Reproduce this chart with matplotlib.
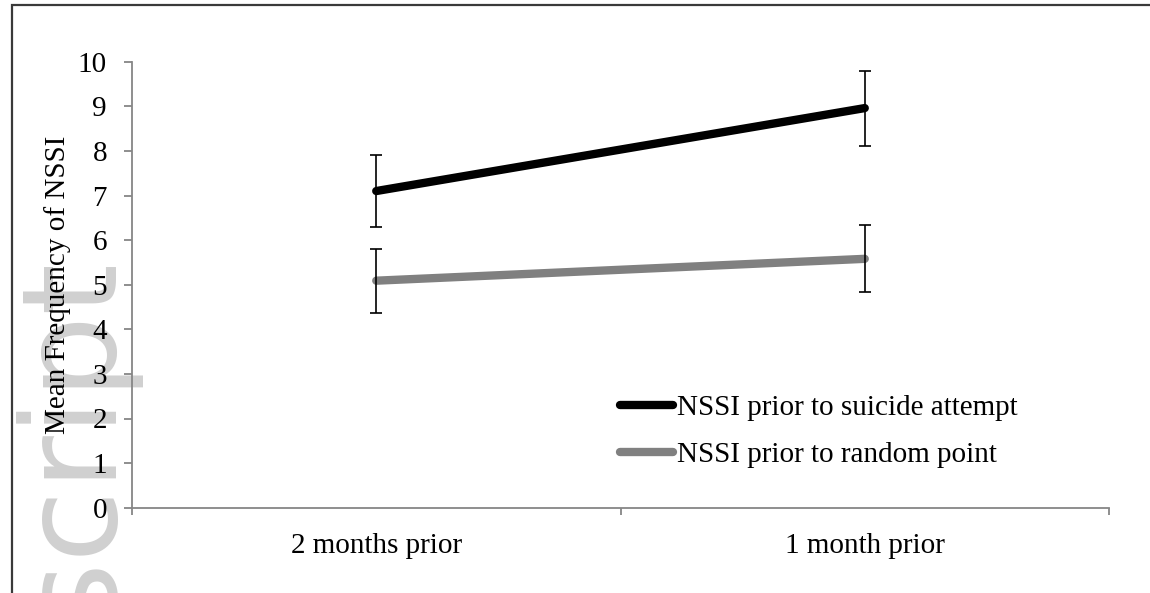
import matplotlib
matplotlib.use("Agg")
import matplotlib.pyplot as plt
from matplotlib.patches import Rectangle

categories = ["2 months prior", "1 month prior"]
attempt_means = [7.10, 8.96]
attempt_err = [0.81, 0.84]
random_means = [5.09, 5.58]
random_err = [0.72, 0.75]
series_labels = ["NSSI prior to suicide attempt", "NSSI prior to random point"]
y_label = "Mean Frequency of NSSI"
y_ticks = list(range(0, 11))

W, H = 1150, 593
FS = 21
plt.rcParams['font.family'] = ['Liberation Serif', 'DejaVu Serif']

fig = plt.figure(figsize=(W / 100, H / 100), dpi=100)
fig.patch.set_facecolor('white')

ax = fig.add_axes([132 / W, 1 - 507.7 / H, (1109 - 132) / W, (507.7 - 61.7) / H])
ax.patch.set_visible(False)

x = list(range(len(categories)))
grey_axis = '#868686'

ax.plot(x, attempt_means, color='black', lw=6, solid_capstyle='round', label=series_labels[0], zorder=3)
ax.plot(x, random_means, color='#808080', lw=6, solid_capstyle='round', label=series_labels[1], zorder=3)
ax.errorbar(x, attempt_means, yerr=attempt_err, fmt='none', ecolor='black', elinewidth=1.2, capsize=4.5, capthick=1.2, zorder=4)
ax.errorbar(x, random_means, yerr=random_err, fmt='none', ecolor='black', elinewidth=1.2, capsize=4.5, capthick=1.2, zorder=4)

ax.set_xlim(-0.5, len(categories) - 0.5)
ax.set_ylim(0, 10)
ax.set_yticks(y_ticks)
ax.set_yticklabels([str(v) for v in y_ticks], fontsize=FS)
ax.set_xticks(x)
ax.set_xticklabels(categories, fontsize=FS)
ax.set_xticks([i - 0.5 for i in range(len(categories) + 1)], minor=True)

for side in ('top', 'right'):
    ax.spines[side].set_visible(False)
for side in ('left', 'bottom'):
    ax.spines[side].set_color(grey_axis)
    ax.spines[side].set_linewidth(1.3)

ax.tick_params(axis='y', which='major', direction='out', length=6, width=1.3, color=grey_axis, pad=12)
ax.tick_params(axis='x', which='major', length=0, pad=18)
ax.tick_params(axis='x', which='minor', direction='out', length=5, width=1.3, color=grey_axis)

ax.text((58 - 132) / (1109 - 132), 0.5, y_label, transform=ax.transAxes, rotation=90,
        ha='center', va='center', fontsize=FS)

leg = ax.legend(loc='upper left', bbox_to_anchor=(620 / W, 1 - 395 / H), bbox_transform=fig.transFigure,
                frameon=False, fontsize=FS, handlelength=1.8, handletextpad=0.15,
                borderpad=0, borderaxespad=0, labelspacing=0.70)

# watermark
fig.text(104 / W, 1 - 250 / H, "Manuscript", rotation=90, rotation_mode='anchor',
         ha='right', va='baseline', fontsize=95, color='#d0d0d0',
         family='DejaVu Sans', zorder=-5)

# outer frame
fig.patches.append(Rectangle((12 / W, -0.1), 1.2, 1 - 5 / H + 0.1, transform=fig.transFigure,
                             fill=False, edgecolor='#3a3a3a', linewidth=1.6, zorder=10))

fig.savefig('out.png', dpi=100)
